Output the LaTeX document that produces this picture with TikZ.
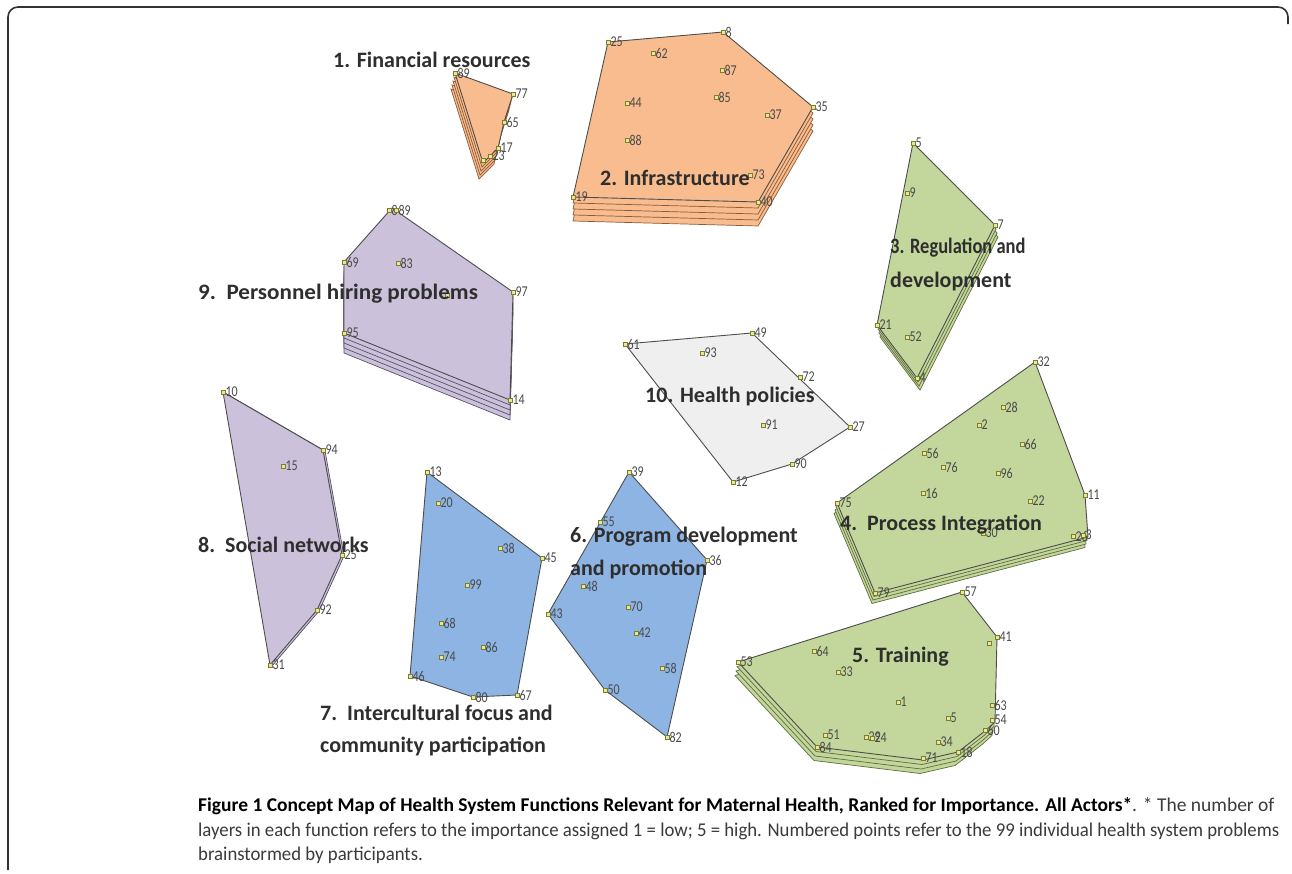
\documentclass[tikz,border=0pt]{standalone}
\usepackage{fontspec}
\setmainfont{Carlito}
\newfontfamily\lblfont{Carlito}
\newfontfamily\numfont[FakeStretch=0.8]{Carlito}
\newfontfamily\capfont{Carlito}
\definecolor{orangefill}{HTML}{F8BC8E}
\definecolor{orangeedge}{HTML}{8B5A36}
\definecolor{greenfill}{HTML}{C3D69B}
\definecolor{greenedge}{HTML}{5E6E3C}
\definecolor{lavfill}{HTML}{CCC1DA}
\definecolor{lavedge}{HTML}{56506A}
\definecolor{bluefill}{HTML}{8EB4E3}
\definecolor{grayfill}{HTML}{EFEFEF}
\definecolor{outline}{HTML}{4D4D4D}
\definecolor{labgray}{HTML}{2E2E2E}
\definecolor{numgray}{HTML}{4A4A4A}
\definecolor{markedge}{HTML}{7E7E2A}
\definecolor{markfill}{HTML}{E6E6A0}
\definecolor{framegray}{HTML}{333333}
\definecolor{capgray}{HTML}{3A3A3A}
\tikzset{
  poly/.style={draw=outline,line width=0.9pt,line join=round},
  ptm/.style={draw=markedge,fill=markfill,line width=0.7pt,rectangle,minimum size=4pt,inner sep=0pt},
  ptl/.style={anchor=west,xshift=2pt,inner sep=0.3pt,text=numgray,font=\numfont\fontsize{15}{15}\selectfont},
  lbl/.style={anchor=base west,inner sep=0pt,text=labgray,font=\lblfont\bfseries\fontsize{22}{26}\selectfont},
  captext/.style={anchor=base west,inner sep=0pt,text=capgray,font=\capfont\fontsize{19.5}{23}\selectfont},
}
% #1 extra layers, #2 dx, #3 dy, #4 layer style, #5 top style, #6 path
\newcommand\stackpoly[6]{%
  \foreach \k in {#1,...,1}{\path[#4,shift={({\k*(#2)},{\k*(#3)})}] #6 -- cycle;}%
  \path[#5] #6 -- cycle;}
\newcommand\pp[3]{\node[ptm] (p#3) at (#1,#2) {}; \node[ptl] (l#3) at (#1,#2) {#3};}
\begin{document}
\begin{tikzpicture}[x=1pt,y=-1pt]
\useasboundingbox (0,0) rectangle (1292,873);
% frame
\draw[framegray,line width=1.6pt,rounded corners=10pt] (8,870) -- (8,7) -- (1288,7) -- (1288,24);

% 1 Financial resources
\stackpoly{4}{-1}{4}{fill=orangefill,draw=orangeedge,line width=0.7pt}{poly,fill=orangefill}{(455,73) -- (513,94) -- (504,122) -- (498,148) -- (483,163)}
% 2 Infrastructure
\stackpoly{4}{0}{6}{fill=orangefill,draw=orangeedge,line width=0.7pt}{poly,fill=orangefill}{(608,42) -- (723,32) -- (813,107) -- (758,202) -- (573,197)}
% 3 Regulation
\stackpoly{3}{1}{4}{fill=greenfill,draw=greenedge,line width=0.7pt}{poly,fill=greenfill}{(913,143) -- (995,225) -- (917,378) -- (877,325)}
% 9 Personnel
\stackpoly{4}{0}{5}{fill=lavfill,draw=lavedge,line width=0.7pt}{poly,fill=lavfill}{(392,208) -- (513,292) -- (510,400) -- (344,333) -- (344,262)}
% 10 Health policies
\path[poly,fill=grayfill] (625,344) -- (752,333) -- (850,427) -- (792,464) -- (733,482) -- cycle;
% 4 Process integration
\stackpoly{3}{-1}{3.5}{fill=greenfill,draw=greenedge,line width=0.7pt}{poly,fill=greenfill}{(1035,362) -- (1085,495) -- (1088,537) -- (875,593) -- (837,503)}
% 5 Training
\stackpoly{3}{-1}{4.5}{fill=greenfill,draw=greenedge,line width=0.7pt}{poly,fill=greenfill}{(962,592) -- (997,637) -- (995,722) -- (985,731) -- (958,752) -- (923,760) -- (817,747) -- (738,662)}
% 8 Social networks
\stackpoly{1}{2}{1}{fill=lavfill,draw=lavedge,line width=0.7pt}{poly,fill=lavfill}{(223,392) -- (323,450) -- (342,555) -- (317,610) -- (270,665)}
% 7 Intercultural
\path[poly,fill=bluefill] (427,472) -- (542,558) -- (517,695) -- (473,697) -- (410,676) -- cycle;
% 6 Program development
\path[poly,fill=bluefill] (629,472) -- (707,560) -- (667,737) -- (605,690) -- (548,614) -- cycle;

% points 1
\pp{455}{73}{89}\pp{513}{94}{77}\pp{504}{122}{65}\pp{498}{148}{17}\pp{483}{160}{}\pp{490}{156}{23}
% points 2
\pp{608}{42}{25}\pp{723}{32}{8}\pp{813}{107}{35}\pp{758}{202}{40}\pp{573}{197}{19}
\pp{653}{53}{62}\pp{722}{70}{87}\pp{716}{97}{85}\pp{627}{103}{44}\pp{767}{115}{37}\pp{627}{140}{88}\pp{750}{175}{73}
% points 3
\pp{913}{143}{5}\pp{995}{225}{7}\pp{917}{378}{4}\pp{877}{325}{21}\pp{907}{193}{9}\pp{907}{337}{52}
% points 9
\pp{389}{210}{8}\pp{396}{210}{89}\pp{513}{292}{97}\pp{510}{400}{14}\pp{344}{333}{95}\pp{344}{262}{69}\pp{398}{263}{83}\pp{447}{295}{}
% points 10
\pp{625}{344}{61}\pp{752}{333}{49}\pp{800}{377}{72}\pp{850}{427}{27}\pp{792}{464}{90}\pp{733}{482}{12}\pp{702}{353}{93}\pp{763}{425}{91}
% points 4
\pp{1035}{362}{32}\pp{1085}{495}{11}\pp{1073}{536}{26}\pp{1083}{535}{3}\pp{875}{593}{79}\pp{837}{503}{75}
\pp{1003}{407}{28}\pp{979}{425}{2}\pp{1022}{444}{66}\pp{924}{453}{56}\pp{943}{467}{76}\pp{998}{473}{96}\pp{923}{493}{16}\pp{1030}{501}{22}\pp{983}{533}{30}
% points 5
\pp{962}{592}{57}\pp{997}{637}{41}\pp{989}{643}{}\pp{992}{705}{63}\pp{992}{720}{54}\pp{985}{730}{60}\pp{958}{752}{18}\pp{923}{758}{71}\pp{817}{747}{84}\pp{738}{662}{53}
\pp{814}{651}{64}\pp{838}{672}{33}\pp{898}{702}{1}\pp{948}{718}{5}\pp{938}{742}{34}\pp{825}{735}{51}\pp{866}{737}{29}\pp{872}{738}{24}
% points 8
\pp{223}{392}{10}\pp{323}{450}{94}\pp{342}{555}{25}\pp{317}{610}{92}\pp{270}{665}{31}\pp{283}{466}{15}
% points 7
\pp{427}{472}{13}\pp{542}{558}{45}\pp{517}{695}{67}\pp{473}{697}{80}\pp{410}{676}{46}
\pp{438}{503}{20}\pp{500}{548}{38}\pp{467}{585}{99}\pp{441}{623}{68}\pp{483}{647}{86}\pp{441}{657}{74}
% points 6
\pp{629}{472}{39}\pp{600}{522}{55}\pp{707}{560}{36}\pp{667}{737}{82}\pp{605}{690}{50}\pp{548}{614}{43}
\pp{583}{586}{48}\pp{628}{607}{70}\pp{636}{633}{42}\pp{662}{668}{58}

% labels
\node[lbl] (t1) at (333,67) {1. Financial resources};
\node[lbl] (t2) at (600,185) {2. Infrastructure};
\node[lbl] (t3a) at (890,253) {\scalebox{0.84}[1]{3. Regulation and}};
\node[lbl] (t3b) at (890,287) {development};
\node[lbl] (t9) at (198,299) {\scalebox{1.05}[1]{9.\ \ Personnel hiring problems}};
\node[lbl] (t10) at (645,402) {10. Health policies};
\node[lbl] (t4) at (840,530) {4.\ \ Process Integration};
\node[lbl] (t5) at (852,662) {5. Training};
\node[lbl] (t8) at (198,552) {8.\ \ Social networks};
\node[lbl] (t6a) at (570,542) {6. Program development};
\node[lbl] (t6b) at (570,575) {and promotion};
\node[lbl] (t7a) at (320,720) {7.\ \ Intercultural focus and};
\node[lbl] (t7b) at (320,752) {community participation};

% caption
\node[captext] (c1) at (198,811) {\textbf{\color{black}Figure 1 Concept Map of Health System Functions Relevant for Maternal Health, Ranked for Importance. All Actors*}. * The number of};
\node[captext] (c2) at (198,836) {\scalebox{0.962}[1]{layers in each function refers to the importance assigned 1 = low; 5 = high. Numbered points refer to the 99 individual health system problems}};
\node[captext] (c3) at (198,860) {\scalebox{0.962}[1]{brainstormed by participants.}};
\end{tikzpicture}
\end{document}
